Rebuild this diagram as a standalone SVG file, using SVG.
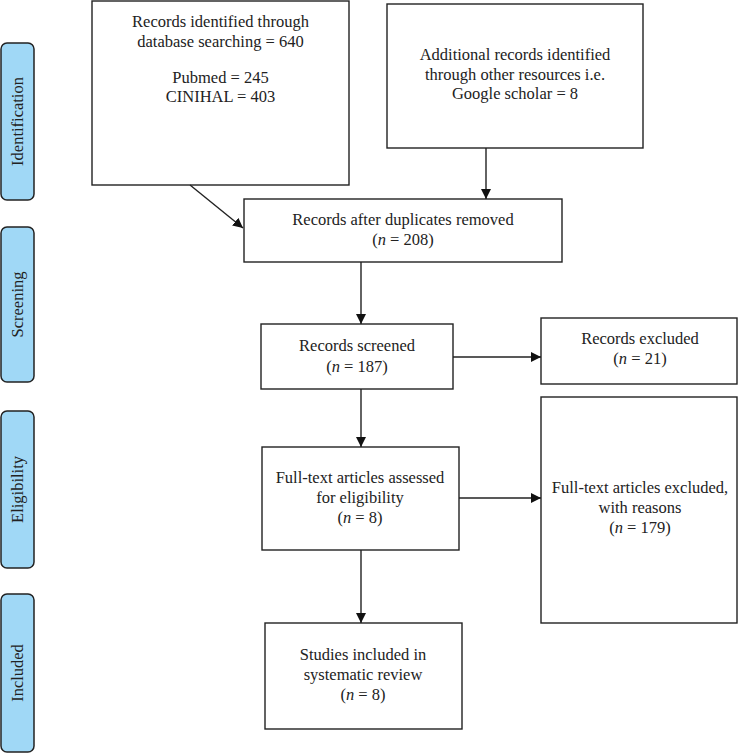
<svg xmlns="http://www.w3.org/2000/svg" width="739" height="753" viewBox="0 0 739 753">
<defs>
<style>
.box{fill:#fff;stroke:#222;stroke-width:1.4}
.side{fill:#a0d8f6;stroke:#222;stroke-width:1.5}
.t{font-family:"Liberation Serif","Times New Roman",serif;font-size:16.5px;fill:#222;text-anchor:middle}
.s{font-family:"Liberation Serif","Times New Roman",serif;font-size:16.5px;fill:#222;text-anchor:middle}
.c{stroke:#222;stroke-width:1.4;fill:none;marker-end:url(#ah)}
.i{font-style:italic}
</style>
<marker id="ah" markerWidth="10" markerHeight="10" viewBox="0 0 10 10" refX="10" refY="5" orient="auto" markerUnits="userSpaceOnUse">
<path d="M0,0 L10,5 L0,10 Z" fill="#111"/>
</marker>
</defs>
<rect width="739" height="753" fill="#fff"/>
<g id="side-identification"><rect class="side" x="1" y="43" width="33" height="157" rx="6"/><text class="s" transform="translate(23,121.5) rotate(-90)">Identification</text></g>
<g id="side-screening"><rect class="side" x="1" y="227" width="33" height="155" rx="6"/><text class="s" transform="translate(23,304.5) rotate(-90)">Screening</text></g>
<g id="side-eligibility"><rect class="side" x="1" y="411" width="33" height="157" rx="6"/><text class="s" transform="translate(23,489.5) rotate(-90)">Eligibility</text></g>
<g id="side-included"><rect class="side" x="1" y="594" width="33" height="158" rx="6"/><text class="s" transform="translate(23,673) rotate(-90)">Included</text></g>

<g id="n-database"><rect class="box" x="92" y="1" width="257" height="184"/>
<text class="t" x="220.5" y="27">Records identified through</text>
<text class="t" x="220.5" y="47">database searching = 640</text>
<text class="t" x="220.5" y="83">Pubmed = 245</text>
<text class="t" x="220.5" y="102">CINIHAL = 403</text></g>

<g id="n-additional"><rect class="box" x="387" y="4" width="256" height="144"/>
<text class="t" x="515" y="60">Additional records identified</text>
<text class="t" x="515" y="80">through other resources i.e.</text>
<text class="t" x="515" y="99">Google scholar = 8</text></g>

<g id="n-duplicates"><rect class="box" x="244" y="199" width="318" height="63"/>
<text class="t" x="403" y="225">Records after duplicates removed</text>
<text class="t" x="403" y="245">(<tspan class="i">n</tspan> = 208)</text></g>

<g id="n-screened"><rect class="box" x="261" y="324" width="192" height="65"/>
<text class="t" x="357" y="351">Records screened</text>
<text class="t" x="357" y="372">(<tspan class="i">n</tspan> = 187)</text></g>

<g id="n-excluded"><rect class="box" x="541" y="318" width="196" height="66"/>
<text class="t" x="640" y="344">Records excluded</text>
<text class="t" x="640" y="364">(<tspan class="i">n</tspan> = 21)</text></g>

<g id="n-fulltext"><rect class="box" x="262" y="447" width="197" height="103"/>
<text class="t" x="360" y="483">Full-text articles assessed</text>
<text class="t" x="360" y="503">for eligibility</text>
<text class="t" x="360" y="523">(<tspan class="i">n</tspan> = 8)</text></g>

<g id="n-fulltext-excluded"><rect class="box" x="541" y="397" width="196" height="226"/>
<text class="t" x="640" y="493">Full-text articles excluded,</text>
<text class="t" x="640" y="513">with reasons</text>
<text class="t" x="640" y="533">(<tspan class="i">n</tspan> = 179)</text></g>

<g id="n-included"><rect class="box" x="265" y="623" width="197" height="106"/>
<text class="t" x="363" y="660">Studies included in</text>
<text class="t" x="363" y="680">systematic review</text>
<text class="t" x="363" y="700">(<tspan class="i">n</tspan> = 8)</text></g>

<g id="connectors">
<line class="c" x1="190" y1="185" x2="243" y2="228"/>
<line class="c" x1="486" y1="148" x2="486" y2="199"/>
<line class="c" x1="361" y1="262" x2="361" y2="324"/>
<line class="c" x1="453" y1="357" x2="541" y2="357"/>
<line class="c" x1="361" y1="389" x2="361" y2="447"/>
<line class="c" x1="459" y1="498" x2="541" y2="498"/>
<line class="c" x1="361" y1="550" x2="361" y2="623"/>
</g>
</svg>
